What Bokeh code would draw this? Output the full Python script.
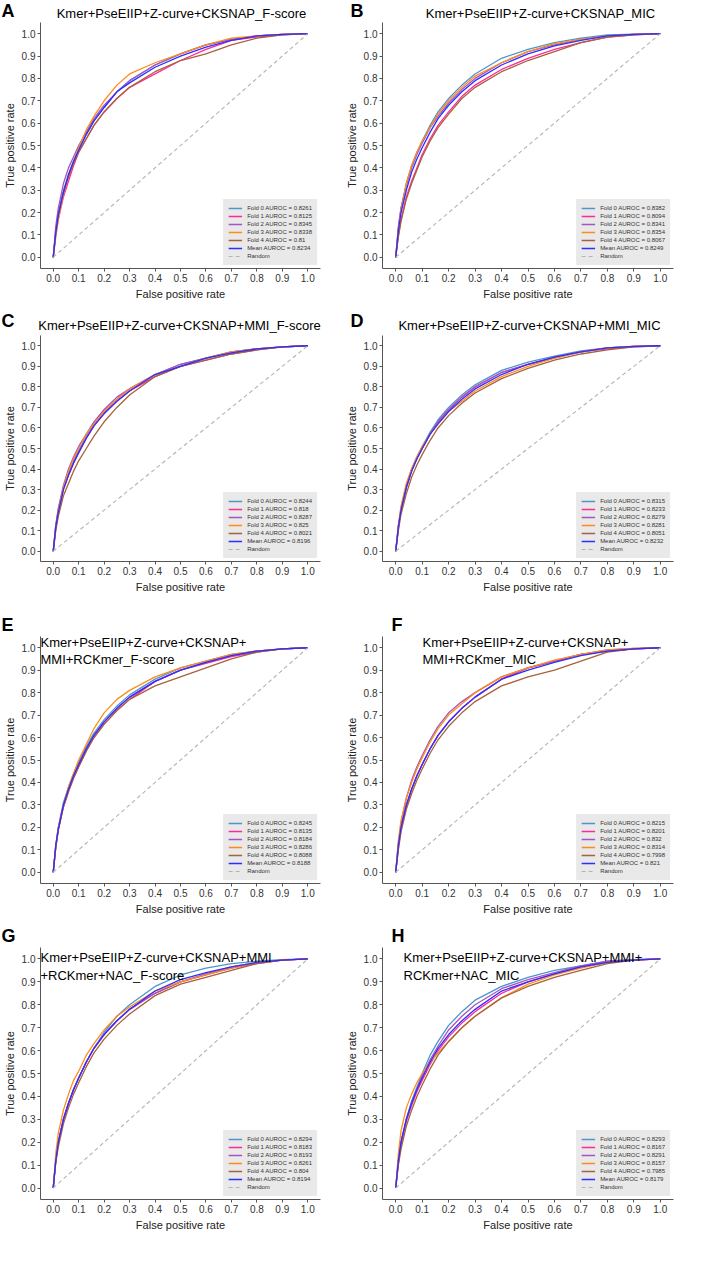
from bokeh.plotting import figure
from bokeh.models import Label, FixedTicker, Range1d, PrintfTickFormatter
from bokeh.layouts import column, row
from bokeh.embed import file_html
from bokeh.resources import INLINE

# ---------------- data ----------------
FPR = [0, .01, .02, .04, .06, .08, .10, .13, .16, .20, .25, .30, .40, .50, .60, .70, .80, .90, 1.0]
TICKS = [0.0, 0.1, 0.2, 0.3, 0.4, 0.5, 0.6, 0.7, 0.8, 0.9, 1.0]
FOLD_NAMES = ["Fold 0", "Fold 1", "Fold 2", "Fold 3", "Fold 4", "Mean"]
LETTERS = ["A", "B", "C", "D", "E", "F", "G", "H"]

TITLE_A = ["Kmer+PseEIIP+Z-curve+CKSNAP_F-score"]
TITLE_B = ["Kmer+PseEIIP+Z-curve+CKSNAP_MIC"]
TITLE_C = ["Kmer+PseEIIP+Z-curve+CKSNAP+MMI_F-score"]
TITLE_D = ["Kmer+PseEIIP+Z-curve+CKSNAP+MMI_MIC"]
TITLE_E = ["Kmer+PseEIIP+Z-curve+CKSNAP+", "MMI+RCKmer_F-score"]
TITLE_F = ["Kmer+PseEIIP+Z-curve+CKSNAP+", "MMI+RCKmer_MIC"]
TITLE_G = ["Kmer+PseEIIP+Z-curve+CKSNAP+MMI", "+RCKmer+NAC_F-score"]
TITLE_H = ["Kmer+PseEIIP+Z-curve+CKSNAP+MMI+", "RCKmer+NAC_MIC"]

AUC_A = ["0.8261", "0.8125", "0.8345", "0.8338", "0.81", "0.8234"]
AUC_B = ["0.8382", "0.8094", "0.8341", "0.8354", "0.8067", "0.8249"]
AUC_C = ["0.8244", "0.818", "0.8287", "0.825", "0.8021", "0.8196"]
AUC_D = ["0.8315", "0.8233", "0.8279", "0.8281", "0.8051", "0.8232"]
AUC_E = ["0.8245", "0.8135", "0.8184", "0.8286", "0.8088", "0.8188"]
AUC_F = ["0.8215", "0.8201", "0.832", "0.8314", "0.7998", "0.821"]
AUC_G = ["0.8294", "0.8183", "0.8193", "0.8261", "0.804", "0.8194"]
AUC_H = ["0.8293", "0.8167", "0.8291", "0.8157", "0.7985", "0.8179"]

A0 = [0, .12, .20, .30, .37, .43, .48, .55, .61, .67, .74, .79, .86, .91, .95, .975, .99, .997, 1]
A1 = [0, .10, .17, .27, .34, .41, .47, .53, .59, .65, .71, .76, .82, .88, .93, .97, .985, .995, 1]
A2 = [0, .14, .22, .33, .40, .45, .50, .56, .62, .68, .74, .79, .86, .91, .95, .975, .99, .997, 1]
A3 = [0, .09, .17, .28, .36, .43, .49, .57, .63, .70, .77, .82, .87, .91, .95, .98, .99, .997, 1]
A4 = [0, .11, .19, .29, .36, .42, .47, .53, .59, .65, .71, .76, .83, .88, .91, .95, .98, .995, 1]
A5 = [0, .11, .19, .29, .37, .43, .48, .55, .61, .67, .74, .78, .85, .90, .94, .97, .99, .997, 1]

B0 = [0, .13, .22, .33, .41, .47, .52, .59, .65, .71, .77, .82, .89, .93, .96, .98, .995, .998, 1]
B1 = [0, .10, .17, .27, .34, .40, .46, .53, .59, .65, .72, .77, .84, .89, .93, .96, .985, .995, 1]
B2 = [0, .14, .22, .32, .40, .46, .51, .58, .63, .69, .75, .80, .87, .92, .95, .975, .99, .997, 1]
B3 = [0, .12, .21, .33, .41, .47, .52, .58, .64, .70, .76, .81, .87, .92, .955, .975, .99, .997, 1]
B4 = [0, .09, .16, .26, .33, .39, .45, .52, .58, .64, .71, .76, .83, .88, .92, .96, .985, .995, 1]
B5 = [0, .12, .20, .30, .38, .44, .49, .56, .62, .68, .74, .79, .86, .91, .945, .97, .99, .997, 1]

C0 = [0, .12, .20, .31, .38, .44, .49, .56, .62, .68, .74, .79, .86, .91, .94, .97, .985, .995, 1]
C1 = [0, .11, .19, .30, .37, .43, .48, .55, .61, .67, .73, .78, .85, .90, .93, .96, .98, .995, 1]
C2 = [0, .13, .21, .32, .40, .46, .51, .57, .63, .69, .75, .79, .86, .91, .94, .97, .985, .995, 1]
C3 = [0, .12, .20, .31, .39, .45, .50, .57, .62, .68, .74, .79, .86, .90, .94, .97, .985, .995, 1]
C4 = [0, .10, .17, .27, .33, .39, .44, .50, .56, .63, .70, .76, .85, .90, .93, .96, .98, .995, 1]
C5 = [0, .12, .19, .30, .37, .43, .48, .55, .61, .67, .73, .78, .86, .90, .94, .965, .985, .995, 1]

D0 = [0, .12, .21, .32, .40, .46, .51, .58, .64, .70, .76, .81, .88, .92, .95, .975, .99, .997, 1]
D1 = [0, .12, .20, .31, .39, .45, .50, .57, .63, .69, .75, .80, .87, .91, .94, .97, .985, .995, 1]
D2 = [0, .11, .20, .31, .39, .45, .50, .57, .63, .69, .75, .80, .87, .91, .945, .97, .99, .997, 1]
D3 = [0, .13, .22, .33, .40, .46, .51, .57, .62, .68, .73, .78, .85, .90, .94, .97, .99, .997, 1]
D4 = [0, .10, .18, .28, .36, .42, .47, .54, .60, .66, .72, .77, .84, .89, .93, .96, .98, .995, 1]
D5 = [0, .12, .20, .31, .39, .45, .50, .57, .62, .68, .74, .79, .86, .91, .945, .97, .99, .997, 1]

E0 = [0, .12, .20, .31, .38, .44, .49, .56, .62, .68, .74, .79, .86, .91, .94, .97, .985, .995, 1]
E1 = [0, .11, .19, .29, .36, .42, .47, .54, .60, .66, .72, .77, .85, .90, .93, .96, .98, .995, 1]
E2 = [0, .12, .20, .30, .37, .43, .48, .55, .61, .67, .73, .78, .85, .90, .935, .965, .985, .995, 1]
E3 = [0, .11, .19, .30, .38, .44, .50, .57, .64, .71, .77, .81, .87, .91, .94, .97, .985, .995, 1]
E4 = [0, .11, .19, .29, .36, .42, .47, .54, .60, .66, .72, .77, .83, .87, .91, .95, .98, .995, 1]
E5 = [0, .12, .19, .30, .37, .43, .48, .55, .61, .67, .73, .78, .85, .90, .935, .965, .985, .995, 1]

F0 = [0, .12, .20, .30, .37, .43, .48, .55, .61, .67, .73, .78, .86, .91, .94, .97, .985, .995, 1]
F1 = [0, .11, .19, .29, .37, .43, .48, .55, .61, .67, .73, .78, .86, .91, .94, .97, .985, .995, 1]
F2 = [0, .13, .22, .33, .41, .47, .52, .59, .65, .71, .76, .80, .87, .91, .94, .97, .99, .997, 1]
F3 = [0, .14, .23, .33, .40, .46, .51, .58, .64, .70, .75, .80, .87, .91, .945, .97, .99, .997, 1]
F4 = [0, .10, .18, .28, .35, .41, .46, .53, .59, .65, .71, .76, .83, .87, .90, .94, .98, .995, 1]
F5 = [0, .12, .20, .30, .37, .43, .48, .55, .61, .67, .73, .78, .86, .90, .935, .965, .985, .995, 1]

G0 = [0, .12, .20, .30, .37, .43, .48, .55, .61, .68, .75, .80, .88, .93, .96, .98, .99, .997, 1]
G1 = [0, .12, .20, .30, .37, .43, .48, .55, .61, .67, .73, .78, .85, .90, .93, .96, .98, .995, 1]
G2 = [0, .12, .20, .30, .37, .43, .48, .55, .61, .67, .73, .78, .85, .90, .935, .965, .985, .995, 1]
G3 = [0, .15, .24, .34, .41, .47, .51, .58, .63, .69, .75, .79, .86, .90, .93, .96, .985, .995, 1]
G4 = [0, .11, .18, .28, .35, .41, .46, .53, .59, .65, .71, .76, .84, .89, .92, .95, .98, .995, 1]
G5 = [0, .12, .20, .30, .37, .43, .48, .55, .61, .67, .73, .78, .86, .91, .94, .965, .985, .995, 1]

H0 = [0, .12, .20, .30, .38, .44, .50, .58, .64, .71, .77, .82, .88, .92, .95, .97, .99, .997, 1]
H1 = [0, .11, .19, .29, .36, .42, .47, .54, .60, .66, .72, .77, .85, .90, .935, .965, .985, .995, 1]
H2 = [0, .12, .20, .30, .37, .43, .49, .56, .62, .69, .75, .80, .87, .91, .94, .97, .99, .997, 1]
H3 = [0, .15, .25, .35, .41, .46, .50, .55, .59, .64, .70, .75, .83, .89, .93, .96, .985, .995, 1]
H4 = [0, .10, .17, .27, .34, .40, .45, .52, .58, .64, .70, .75, .83, .88, .92, .95, .98, .995, 1]
H5 = [0, .12, .20, .30, .37, .43, .48, .55, .61, .67, .73, .78, .86, .90, .935, .965, .985, .995, 1]

# ---------------- style / layout ----------------
COLORS = ["#4f94cd", "#ff2a9d", "#a455c2", "#ff8c1a", "#a5623c", "#2e2eff"]
FONT = "Liberation Sans"
XR = (-0.05, 1.05)
YR = (-0.05, 1.05)
TOTAL_W = 692

# column params: fig width, left border, right border
COLS = [(340, 30, 20), (352, 42, 19)]
# row params: header height, plot height, bottom border
ROWS = [(22, 288, 42), (25, 277, 51), (24, 288, 41), (23, 302, 50)]
# letter positions in header (x, y-top) per panel
LETTER_POS = [(1, 0), (350, 0), (1, 0), (350, 0), (1, 2), (391, 2), (1, 1), (391, 1)]
# title positions in header for rows 1-2 (center x, middle y)
TITLE_POS = [(181, 13), (540, 13), (179, 15), (529, 15)]
# in-frame title offsets (px from frame left, px below frame top) for rows 3-4
INFRAME_DX = [0, 40, 0, 21]
INFRAME_DY = [[6, 23], [6, 23], [10, 28], [10, 28]]


def make_header(h, idx0, titles):
    hp = figure(width=TOTAL_W, height=h, output_backend="svg", toolbar_location=None,
                x_range=Range1d(0, TOTAL_W), y_range=Range1d(h, 0),
                x_axis_type=None, y_axis_type=None, min_border=0,
                min_border_left=0, min_border_right=0, min_border_top=0, min_border_bottom=0)
    hp.outline_line_color = None
    for k in (0, 1):
        i = idx0 + k
        lx, ly = LETTER_POS[i]
        hp.add_layout(Label(x=lx, y=ly, text=LETTERS[i], text_font=FONT, text_font_size="18px",
                            text_font_style="bold", text_baseline="top", text_align="left",
                            text_color="black"))
        if titles is not None:
            tx, ty = TITLE_POS[i]
            hp.add_layout(Label(x=tx, y=ty, text=titles[k][0], text_font=FONT,
                                text_font_size="13px", text_baseline="middle",
                                text_align="center", text_color="black"))
    return hp


def make_panel(idx, title_lines, aucs, curves):
    ci, ri = idx % 2, idx // 2
    fig_w, left, right = COLS[ci]
    _, fig_h, bottom = ROWS[ri]
    fw = fig_w - left - right
    fh = fig_h - bottom
    p = figure(width=fig_w, height=fig_h, output_backend="svg", toolbar_location=None,
               x_range=Range1d(*XR), y_range=Range1d(*YR),
               min_border_left=left, min_border_right=right,
               min_border_top=0, min_border_bottom=bottom)
    p.outline_line_color = None
    p.grid.visible = False
    for ax in (p.xaxis[0], p.yaxis[0]):
        ax.ticker = FixedTicker(ticks=TICKS)
        ax.formatter = PrintfTickFormatter(format="%.1f")
        ax.minor_tick_line_color = None
        ax.major_tick_in = 0
        ax.major_tick_out = 3
        ax.major_label_standoff = 2
        ax.axis_line_color = "#555555"
        ax.major_tick_line_color = "#555555"
        ax.major_label_text_font = FONT
        ax.major_label_text_font_size = "10px"
        ax.major_label_text_color = "#333333"
        ax.axis_label_text_font = FONT
        ax.axis_label_text_font_size = "11px"
        ax.axis_label_text_font_style = "normal"
        ax.axis_label_text_color = "#222222"
        ax.axis_label_standoff = 3
    p.xaxis.axis_label = "False positive rate"
    p.yaxis.axis_label = "True positive rate"

    for i, tpr in enumerate(curves):
        lbl = f"{FOLD_NAMES[i]} AUROC = {aucs[i]}"
        p.line(FPR, tpr, line_color=COLORS[i], line_width=1.3, legend_label=lbl)
    p.line([0, 1], [0, 1], line_color="#b3b3b3", line_width=1.1, line_dash="4 3",
           legend_label="Random")

    lg = p.legend[0]
    lg.location = "bottom_right"
    lg.background_fill_color = "#e9e9e9"
    lg.background_fill_alpha = 1.0
    lg.border_line_alpha = 0
    lg.label_text_font = FONT
    lg.label_text_font_size = "6px"
    lg.label_text_color = "#333333"
    lg.label_height = 8
    lg.glyph_height = 8
    lg.glyph_width = 14
    lg.spacing = 0
    lg.padding = 5
    lg.margin = 3
    lg.label_standoff = 5

    if ri >= 2:
        k = idx - 4
        for line, dy in zip(title_lines, INFRAME_DY[k]):
            tx = XR[0] + INFRAME_DX[k] * (XR[1] - XR[0]) / fw
            ty = YR[1] - dy * (YR[1] - YR[0]) / fh
            p.add_layout(Label(x=tx, y=ty, text=line, text_font=FONT,
                               text_font_size="13px", text_baseline="middle",
                               text_align="left", text_color="black"))
    return p


panels = [
    (TITLE_A, AUC_A, [A0, A1, A2, A3, A4, A5]),
    (TITLE_B, AUC_B, [B0, B1, B2, B3, B4, B5]),
    (TITLE_C, AUC_C, [C0, C1, C2, C3, C4, C5]),
    (TITLE_D, AUC_D, [D0, D1, D2, D3, D4, D5]),
    (TITLE_E, AUC_E, [E0, E1, E2, E3, E4, E5]),
    (TITLE_F, AUC_F, [F0, F1, F2, F3, F4, F5]),
    (TITLE_G, AUC_G, [G0, G1, G2, G3, G4, G5]),
    (TITLE_H, AUC_H, [H0, H1, H2, H3, H4, H5]),
]

figs = [make_panel(k, *panels[k]) for k in range(8)]

blocks = []
for r in range(4):
    titles = [panels[2 * r][0], panels[2 * r + 1][0]] if r < 2 else None
    blocks.append(make_header(ROWS[r][0], 2 * r, titles))
    blocks.append(row(figs[2 * r], figs[2 * r + 1], spacing=0))

layout = column(*blocks, spacing=0)

open("out.html", "w").write(file_html(layout, INLINE))
